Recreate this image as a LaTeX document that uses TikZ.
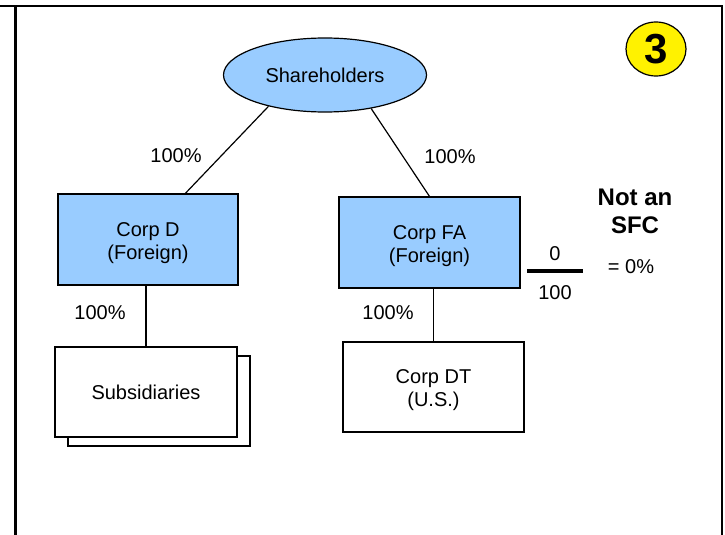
\documentclass[tikz,border=0pt]{standalone}
\usepackage{fontspec}
\setmainfont{Liberation Sans}
\usetikzlibrary{shapes.geometric}
\definecolor{corpblue}{HTML}{99CCFF}
\newcommand{\firstline}{\rule{0pt}{21pt}}
\begin{document}
\begin{tikzpicture}[x=1pt,y=-1pt,
    corp/.style={draw, line width=1.2pt, minimum width=181pt, minimum height=91pt, inner sep=0pt, align=center, font=\fontsize{20}{23}\selectfont},
    foreign/.style={corp, fill=corpblue},
    pct/.style={inner sep=0pt, font=\fontsize{20}{23}\selectfont}]
    \useasboundingbox (0,0) rectangle (725,535);
    \draw[line width=2.2pt] (0,6) -- (723,6);
    \draw[line width=2.2pt] (15.5,6) -- (15.5,535);
    \draw[line width=2.2pt] (722,6) -- (722,535);
    \node[ellipse, draw, line width=1.2pt, fill=corpblue, minimum width=203pt, minimum height=74pt, font=\fontsize{20}{23}\selectfont] (sh) at (325,75) {Shareholders};
    \node[ellipse, draw, line width=1.2pt, fill=yellow, minimum width=60pt, minimum height=54pt, inner sep=0pt, font=\bfseries\fontsize{42}{42}\selectfont] (badge) at (656,49) {3};
    \node[foreign, minimum width=180pt] (cd) at (148,239.5) {\firstline Corp D\\(Foreign)};
    \node[foreign] (cfa) at (429.5,242.5) {\firstline Corp FA\\(Foreign)};
    \node[corp, minimum width=182pt, minimum height=90pt] (subback) at (159,401) {};
    \node[corp, fill=white, minimum width=182pt, minimum height=90pt] (sub) at (146,392) {Subsidiaries};
    \node[corp, minimum height=90pt] (cdt) at (433.5,387) {\firstline Corp DT\\(U.S.)};
    \draw[line width=1.2pt] (sh.209) -- (cd.51.6);
    \draw[line width=1.2pt] (sh.324) -- (cfa.north);
    \draw[line width=1.2pt] (sub.north) -- (sub.north |- cd.south);
    \draw[line width=1.2pt] (cdt.north) -- (cdt.north |- cfa.south);
    \node[pct] (pd) at (176,156) {100\%};
    \node[pct] (pfa) at (450,157) {100\%};
    \node[pct] (psub) at (100,313) {100\%};
    \node[pct] (pdt) at (388,313) {100\%};
    % share of Corp DT held by U.S. persons
    \node[pct] (num) at (555,254) {0};
    \node[pct] (den) at (555,293) {100};
    \draw[line width=3.2pt] (527,271) -- (582.5,271);
    \node[pct] (res) at (631,267) {= 0\%};
    \node[align=center, inner sep=0pt, font=\bfseries\fontsize{24}{28}\selectfont] (sfc) at (635,211) {Not an\\SFC};
\end{tikzpicture}
\end{document}
